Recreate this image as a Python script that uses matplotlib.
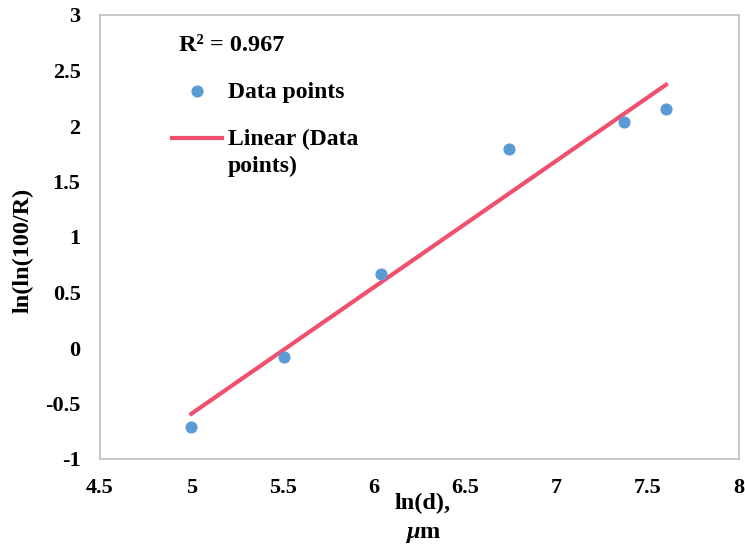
import numpy as np
import matplotlib
matplotlib.use("Agg")
import matplotlib.pyplot as plt
from matplotlib.legend_handler import HandlerLine2D

# values
ln_d = [5.00, 5.51, 6.04, 6.74, 7.37, 7.60]
ln_ln_r = [-0.71, -0.08, 0.67, 1.79, 2.04, 2.15]
x_ticks = [4.5, 5, 5.5, 6, 6.5, 7, 7.5, 8]
y_ticks = [-1, -0.5, 0, 0.5, 1, 1.5, 2, 2.5, 3]
r2_text = "R² = 0.967"

plt.rcParams["font.family"] = ["Liberation Serif", "DejaVu Serif"]
plt.rcParams["font.weight"] = "bold"
plt.rcParams["mathtext.fontset"] = "custom"
plt.rcParams["mathtext.rm"] = "Liberation Serif:bold"
plt.rcParams["mathtext.it"] = "Liberation Serif:italic:bold"


class HandlerFirstLine(HandlerLine2D):
    # keep the trendline handle level with the first line of a 2-line label
    def create_artists(self, legend, orig_handle, xdescent, ydescent,
                       width, height, fontsize, trans):
        return super().create_artists(legend, orig_handle, xdescent,
                                      ydescent - 1.2 * fontsize, width, height,
                                      fontsize, trans)


fig = plt.figure(figsize=(7.45, 5.45), dpi=100)
ax = fig.add_axes([100 / 745, 1 - 459 / 545, 639 / 745, 444 / 545])

ax.scatter(ln_d, ln_ln_r, s=60, color="#5B9BD5", zorder=3, label="Data points")

# linear trendline over the data range
slope, icpt = np.polyfit(ln_d, ln_ln_r, 1)
xs = np.array([min(ln_d), max(ln_d)])
trend, = ax.plot(xs, slope * xs + icpt, color="#F0506E", lw=3,
                 label="Linear (Data\npoints)")

ax.set_xlim(4.5, 8)
ax.set_ylim(-1, 3)
ax.set_xticks(x_ticks)
ax.set_yticks(y_ticks)
ax.set_xticklabels([f"{t:g}" for t in x_ticks])
ax.set_yticklabels([f"{t:g}" for t in y_ticks])
ax.tick_params(length=0, labelsize=16)
ax.tick_params(axis="y", pad=14)
ax.tick_params(axis="x", pad=14)
for s in ax.spines.values():
    s.set_color("#BFBFBF")
    s.set_linewidth(1.2)

ax.set_xlabel("ln(d),\n$\\mu$m", fontsize=17.5, fontweight="bold",
              linespacing=1.5)
ax.xaxis.set_label_coords(0.505, -0.076)
ax.set_ylabel("ln(ln(100/R)", fontsize=17.5, fontweight="bold")
ax.yaxis.set_label_coords(-0.104, 0.47)

ax.text(0.124, 0.932, r2_text, transform=ax.transAxes, fontsize=17.5,
        fontweight="bold", va="center", ha="left")
leg = ax.legend(loc="upper left", bbox_to_anchor=(0.113, 0.851), frameon=False,
                fontsize=17, handlelength=2.1, handletextpad=0.25,
                labelspacing=1.1, borderpad=0, borderaxespad=0,
                handler_map={trend: HandlerFirstLine()})
for t in leg.get_texts():
    t.set_linespacing(1.35)

fig.savefig("out.png", dpi=100)
